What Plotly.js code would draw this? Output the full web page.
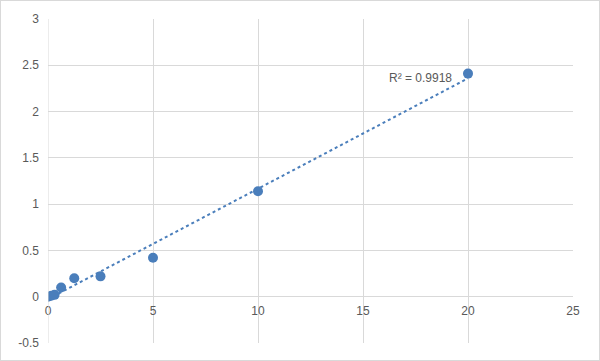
<!DOCTYPE html>
<html>
<head>
<meta charset="utf-8">
<script src="https://cdn.plot.ly/plotly-3.0.1.min.js"></script>
<style>
html,body{margin:0;padding:0;background:#fff;}
#chart{width:598px;height:359px;border:1px solid #d9d9d9;}
</style>
</head>
<body>
<div id="chart"></div>
<script>
const concentration = [0, 0.156, 0.313, 0.625, 1.25, 2.5, 5, 10, 20];
const od = [0.00, 0.01, 0.02, 0.10, 0.20, 0.22, 0.42, 1.14, 2.41];
const xTicks = [0, 5, 10, 15, 20, 25];
const yTicks = [-0.5, 0, 0.5, 1, 1.5, 2, 2.5, 3];
const yTickText = ['-0.5', '0', '0.5', '1', '1.5', '2', '2.5', '3'];
const r2Label = 'R² = 0.9918';

// linear least squares trendline
const n = concentration.length;
const mx = concentration.reduce((a,b)=>a+b,0)/n;
const my = od.reduce((a,b)=>a+b,0)/n;
let sxy=0, sxx=0;
for (let i=0;i<n;i++){ sxy += (concentration[i]-mx)*(od[i]-my); sxx += (concentration[i]-mx)**2; }
const slope = sxy/sxx, intercept = my - slope*mx;
const xMin = Math.min(...concentration), xMax = Math.max(...concentration);
const trendX = [xMin, xMax];
const trendY = trendX.map(x => intercept + slope*x);

const blue = '#4a7ebb';
const grey = '#595959';
const yRange = [-0.5, 3];
const xAxisPos = (0 - yRange[0])/(yRange[1]-yRange[0]);

const data = [
  {x: trendX, y: trendY, mode:'lines', line:{color:blue, width:2, dash:'dot'}, hoverinfo:'skip'},
  {x: concentration, y: od, mode:'markers', marker:{color:blue, size:10}}
];

const layout = {
  width:598, height:359,
  margin:{l:47, r:26, t:18, b:17},
  paper_bgcolor:'#fff', plot_bgcolor:'#fff',
  showlegend:false,
  font:{family:'Liberation Sans, Arial, sans-serif', size:12, color:grey},
  xaxis:{range:[0,25], tickvals:xTicks, showgrid:true, gridcolor:'#d9d9d9', gridwidth:1,
         zeroline:false, showline:false, ticks:'', anchor:'free', position:xAxisPos,
         tickfont:{size:12, color:grey}, ticklabelstandoff:5, fixedrange:true},
  yaxis:{range:yRange, tickvals:yTicks, ticktext:yTickText, showgrid:true, gridcolor:'#d9d9d9', gridwidth:1,
         zeroline:true, zerolinecolor:'#d9d9d9', zerolinewidth:1, showline:false, ticks:'',
         tickfont:{size:12, color:grey}, ticklabelstandoff:8, fixedrange:true},
  shapes:[{type:'line', xref:'x', yref:'y', x0:0, x1:0, y0:yRange[0], y1:yRange[1], line:{color:'#d9d9d9', width:1}}],
  annotations:[{x:20, y:2.41, xref:'x', yref:'y', text:r2Label, showarrow:false,
                xanchor:'right', yanchor:'middle', xshift:-14, yshift:-4, font:{size:12, color:grey}}]
};

Plotly.newPlot('chart', data, layout, {displayModeBar:false, staticPlot:true});
</script>
</body>
</html>
